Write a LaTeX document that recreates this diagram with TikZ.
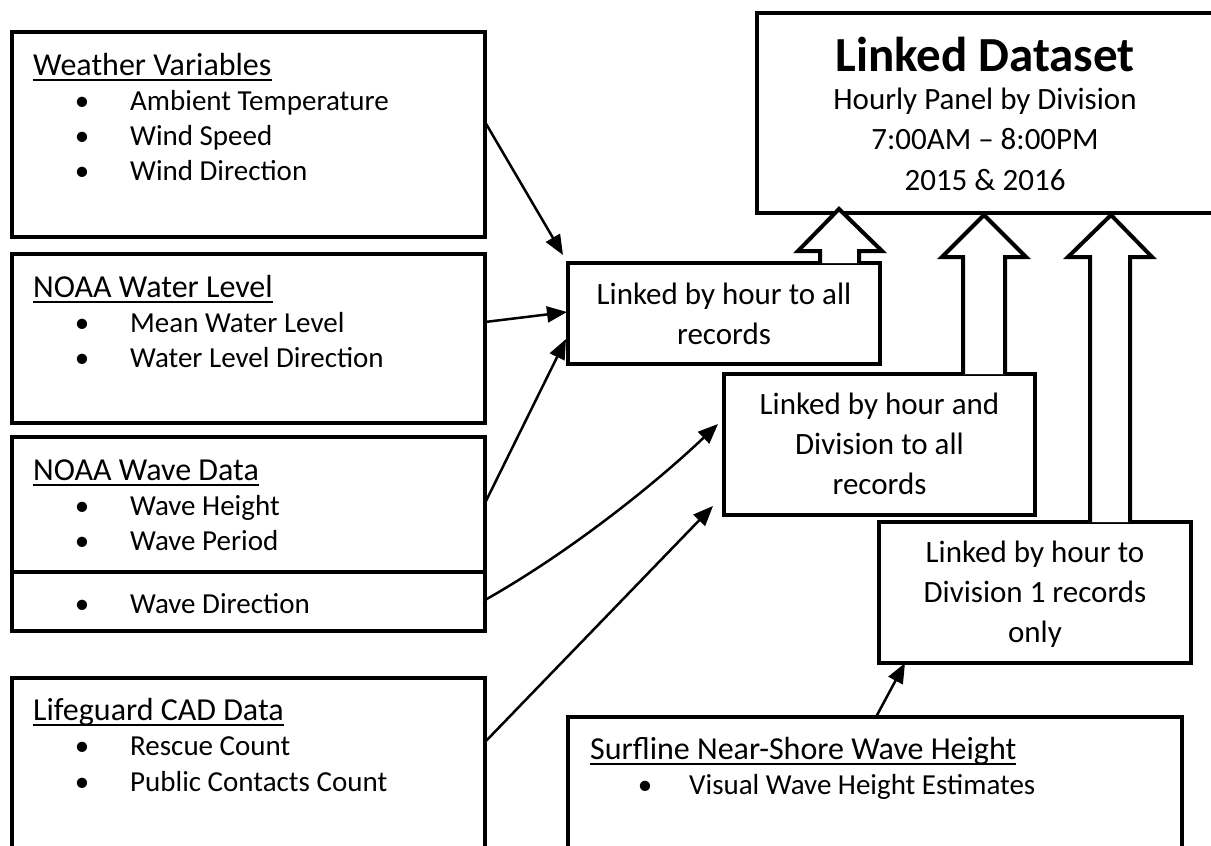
\documentclass[tikz,border=0pt]{standalone}
\usepackage{fontspec}
\setmainfont{Carlito}
\usetikzlibrary{arrows.meta}
\begin{document}
\begin{tikzpicture}[x=1pt,y=-1pt,
  box/.style={draw, line width=4pt, rectangle, anchor=north west, inner sep=0pt, outer sep=0pt},
  ttl/.style={anchor=base west, inner sep=0pt, font=\fontsize{32}{38}\selectfont},
  txt/.style={anchor=base west, inner sep=0pt, font=\fontsize{29}{35}\selectfont},
  bul/.style={anchor=base, inner sep=0pt, font=\fontsize{29}{35}\selectfont},
  ctr/.style={anchor=base, inner sep=0pt, font=\fontsize{31}{38}\selectfont},
  ul/.style={line width=2pt},
  conn/.style={line width=2.5pt, -{Triangle[length=20pt,width=16pt]}},
  blk/.style={line width=4pt, fill=white, line join=miter},
]
\clip (0,0) rectangle (1211,846);
\useasboundingbox (0,0) rectangle (1211,846);

% ---------- left boxes ----------
\node[box, minimum width=473pt, minimum height=205pt] (weather) at (12,32) {};
\node[ttl] (t1) at (33,75) {Weather Variables};
\draw[ul] ([yshift=-5pt]t1.base west) -- ([yshift=-5pt]t1.base east);
\node[bul] (b11) at (82,110) {•}; \node[txt] (i11) at (130,110) {Ambient Temperature};
\node[bul] (b12) at (82,145) {•}; \node[txt] (i12) at (130,145) {Wind Speed};
\node[bul] (b13) at (82,180) {•}; \node[txt] (i13) at (130,180) {Wind Direction};

\node[box, minimum width=473pt, minimum height=169pt] (water) at (12,254) {};
\node[ttl] (t2) at (33,297) {NOAA Water Level};
\draw[ul] ([yshift=-5pt]t2.base west) -- ([yshift=-5pt]t2.base east);
\node[bul] (b21) at (82,332) {•}; \node[txt] (i21) at (130,332) {Mean Water Level};
\node[bul] (b22) at (82,367) {•}; \node[txt] (i22) at (130,367) {Water Level Direction};

\node[box, minimum width=473pt, minimum height=135pt] (wave) at (12,437) {};
\node[ttl] (t3) at (33,480) {NOAA Wave Data};
\draw[ul] ([yshift=-5pt]t3.base west) -- ([yshift=-5pt]t3.base east);
\node[bul] (b31) at (82,515) {•}; \node[txt] (i31) at (130,515) {Wave Height};
\node[bul] (b32) at (82,550) {•}; \node[txt] (i32) at (130,550) {Wave Period};

\node[box, minimum width=473pt, minimum height=59pt] (wavedir) at (12,572) {};
\node[bul] (b41) at (82,613) {•}; \node[txt] (i41) at (130,613) {Wave Direction};

\node[box, minimum width=473pt, minimum height=190pt] (life) at (12,678) {};
\node[ttl] (t5) at (33,720) {Lifeguard CAD Data};
\draw[ul] ([yshift=-5pt]t5.base west) -- ([yshift=-5pt]t5.base east);
\node[bul] (b51) at (82,755) {•}; \node[txt] (i51) at (130,755) {Rescue Count};
\node[bul] (b52) at (82,791) {•}; \node[txt] (i52) at (130,791) {Public Contacts Count};

% ---------- surfline ----------
\node[box, minimum width=614pt, minimum height=150pt] (surf) at (568,717) {};
\node[ttl] (t6) at (590,759) {Surfline Near-Shore Wave Height};
\draw[ul] ([yshift=-5pt]t6.base west) -- ([yshift=-5pt]t6.base east);
\node[bul] (b61) at (645,794) {•}; \node[txt] (i61) at (689,794) {Visual Wave Height Estimates};

% ---------- linking boxes ----------
\node[box, minimum width=312pt, minimum height=101pt] (l1) at (568,263) {};
\node[ctr] (l1a) at (724,304) {Linked by hour to all};
\node[ctr] (l1b) at (724,344) {records};

\node[box, minimum width=311pt, minimum height=141pt] (l2) at (724,374) {};
\node[ctr] (l2a) at (879.5,414) {Linked by hour and};
\node[ctr] (l2b) at (879.5,454) {Division to all};
\node[ctr] (l2c) at (879.5,494) {records};

\node[box, minimum width=312pt, minimum height=141pt] (l3) at (879,522) {};
\node[ctr] (l3a) at (1035,562) {Linked by hour to};
\node[ctr] (l3b) at (1035,602) {Division 1 records};
\node[ctr] (l3c) at (1035,642) {only};

% ---------- linked dataset ----------
\node[box, minimum width=460pt, minimum height=200pt] (ds) at (757,13) {};
\node[anchor=base, inner sep=0pt, font=\bfseries\fontsize{49}{54}\selectfont] (dsa) at (985,71) {Linked Dataset};
\node[ctr] (dsb) at (985,109) {Hourly Panel by Division};
\node[ctr] (dsc) at (985,149) {7:00AM – 8:00PM};
\node[ctr] (dsd) at (985,190) {2015 \& 2016};

% ---------- block arrows ----------
\draw[blk] ([xshift=252pt]l1.north west) -- ++(0,-12) -- ++(-22,0) -- (839,209) -- ++(43,42) -- ++(-23,0) -- ([xshift=291pt]l1.north west);
\draw[blk] ([xshift=239pt]l2.north west) -- (963,257) -- (942,257) -- (984,215) -- (1026,257) -- (1005,257) -- ([xshift=281pt]l2.north west);
\draw[blk] ([xshift=211pt]l3.north west) -- (1090,257) -- (1068,257) -- (1111,215) -- (1152,257) -- (1130,257) -- ([xshift=251pt]l3.north west);

% ---------- connectors ----------
\draw[conn] ([yshift=-90pt]weather.north east) -- ([xshift=-5pt,yshift=8pt]l1.north west);
\draw[conn] ([yshift=-68pt]water.north east) -- ([xshift=-1pt,yshift=-49pt]l1.north west);
\draw[conn] ([yshift=-66pt]wave.north east) -- ([xshift=-2pt,yshift=-76pt]l1.north west);
\draw[conn] ([yshift=-28pt]wavedir.north east) .. controls (570,552) and (655,484) .. ([xshift=-6pt,yshift=-50pt]l2.north west);
\draw[conn] ([yshift=-64pt]life.north east) -- ([xshift=-11pt,yshift=9pt]l2.south west);
\draw[conn] ([xshift=308pt]surf.north west) -- ([xshift=26pt]l3.south west);
\end{tikzpicture}
\end{document}
